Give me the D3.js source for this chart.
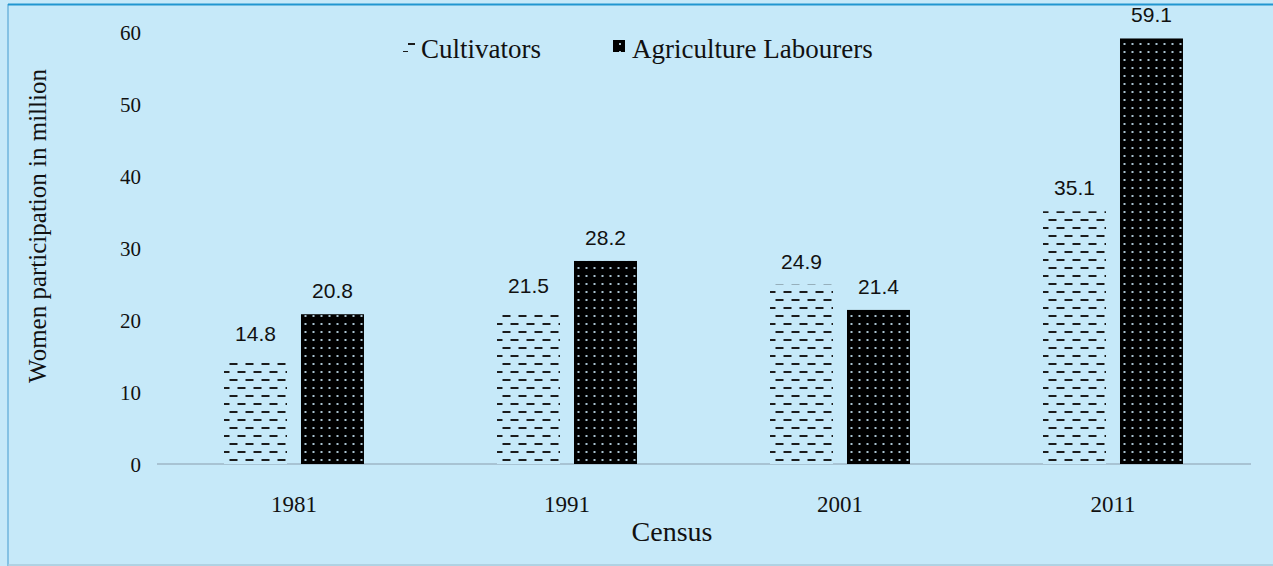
<!DOCTYPE html>
<html lang="en">
<head>
<meta charset="UTF-8">
<title>Women participation chart</title>
<script src="https://d3js.org/d3.v7.min.js"></script>
<style>
  body{ margin:0; padding:0; background:#c6e9f9; }
  .chart{ display:block; }
  .chart text{ fill:#111; }
</style>
</head>
<body>
<svg class="chart"></svg>
<script>
const census = ['1981','1991','2001','2011'];
const seriesNames = ['Cultivators','Agriculture Labourers'];
const cultivators = [14.8, 21.5, 24.9, 35.1];
const labourers = [20.8, 28.2, 21.4, 59.1];
const yTicks = [0,10,20,30,40,50,60];

const serif='"Liberation Serif","Times New Roman",serif';
const sans='"Liberation Sans",Arial,sans-serif';
const W=1273, H=566;
const svg=d3.select('.chart').attr('width',W).attr('height',H);

// patterns
const defs=svg.append('defs');
const dash=defs.append('pattern').attr('id','dash')
  .attr('patternUnits','userSpaceOnUse').attr('width',16).attr('height',16);
dash.append('rect').attr('width',16).attr('height',16).attr('fill','#c6e9f9');
dash.append('rect').attr('x',0).attr('y',3).attr('width',8).attr('height',2).attr('fill','#1c1c1c');
dash.append('rect').attr('x',8).attr('y',11).attr('width',8).attr('height',2).attr('fill','#1c1c1c');

const dots=defs.append('pattern').attr('id','dots')
  .attr('patternUnits','userSpaceOnUse').attr('width',8).attr('height',8);
dots.append('rect').attr('width',8).attr('height',8).attr('fill','#000');
dots.append('rect').attr('x',3).attr('y',3).attr('width',2).attr('height',2).attr('fill','#a9c2d0');

const fills=['url(#dash)','url(#dots)'];

// frame
svg.append('line').attr('x1',8).attr('x2',8).attr('y1',4).attr('y2',566).attr('stroke','#6fb4dc').attr('stroke-width',1.5);
svg.append('line').attr('x1',8).attr('x2',W).attr('y1',4.5).attr('y2',4.5).attr('stroke','#2196d0').attr('stroke-width',2);
svg.append('line').attr('x1',8).attr('x2',W).attr('y1',565).attr('y2',565).attr('stroke','#a9cadb').attr('stroke-width',1.5);

const x0=d3.scaleBand().domain(census).range([157.5,1249.5]).padding(0);
const x1=d3.scaleBand().domain(seriesNames).range([0,x0.bandwidth()])
  .paddingInner(0.1818).paddingOuter(0.864);
const y=d3.scaleLinear().domain([0,60]).range([464,32]);

// y tick labels
const yAxis=d3.axisLeft(y).tickValues(yTicks).tickSize(0).tickPadding(0);
const gy=svg.append('g').attr('transform','translate(141,0)').call(yAxis);
gy.select('.domain').remove();
gy.attr('font-family',null).attr('font-size',null);
gy.selectAll('text').style('font-family',serif).style('font-size','21px').attr('fill','#111').attr('dy','0.34em');

// x axis
const xAxis=d3.axisBottom(x0).tickSize(0).tickPadding(0);
const gx=svg.append('g').attr('transform','translate(0,464)').call(xAxis);
gx.select('.domain').remove();
gx.attr('font-family',null).attr('font-size',null);
gx.selectAll('text').style('font-family',serif).style('font-size','23px').attr('fill','#111').attr('dy','48px');
svg.append('line').attr('x1',157).attr('x2',1251).attr('y1',464).attr('y2',464)
  .attr('stroke','#a8c3d3').attr('stroke-width',2);

// bars
const rows=census.map((c,i)=>({c, v:[cultivators[i],labourers[i]]}));
const groups=svg.selectAll('.grp').data(rows).enter().append('g')
  .attr('transform',d=>'translate('+x0(d.c)+',0)');
groups.selectAll('rect').data(d=>d.v.map((v,k)=>({k,v}))).enter().append('rect')
  .attr('x',d=>x1(seriesNames[d.k]))
  .attr('y',d=>y(d.v))
  .attr('width',x1.bandwidth())
  .attr('height',d=>y(0)-y(d.v))
  .attr('fill',d=>fills[d.k]);
groups.selectAll('.lbl').data(d=>d.v.map((v,k)=>({k,v}))).enter().append('text')
  .style('font-family',sans).style('font-size','21px')
  .attr('x',d=>x1(seriesNames[d.k])+x1.bandwidth()/2)
  .attr('y',d=>y(d.v)-16)
  .attr('text-anchor','middle')
  .text(d=>d.v.toFixed(1));

// axis titles
svg.append('text').style('font-family',serif).style('font-size','25px')
  .attr('transform','translate(46,226) rotate(-90)').attr('text-anchor','middle')
  .text('Women participation in million');
svg.append('text').style('font-family',serif).style('font-size','28px')
  .attr('x',672).attr('y',541).attr('text-anchor','middle').text('Census');

// legend
const legend=[{x:403,t:421},{x:613,t:632}];
legend.forEach((l,i)=>{
  svg.append('rect').attr('x',l.x).attr('y',40).attr('width',12).attr('height',12).attr('fill',fills[i]);
  svg.append('text').style('font-family',serif).style('font-size','27px')
    .attr('x',l.t).attr('y',58).text(seriesNames[i]);
});
</script>
</body>
</html>
